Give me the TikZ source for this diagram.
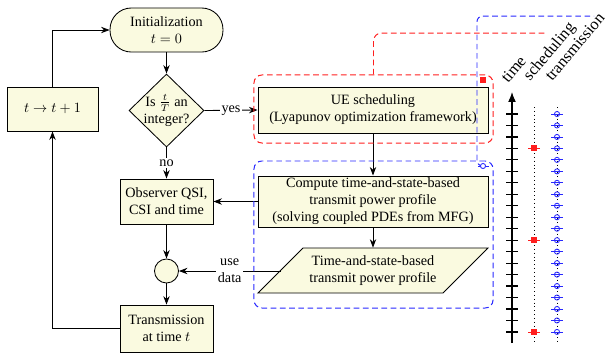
\documentclass[tikz,border=0pt]{standalone}
\usepackage{fontspec}
\setmainfont{Liberation Serif}
\usetikzlibrary{shapes.geometric,arrows.meta,calc}
\definecolor{boxfill}{RGB}{250,250,224}
\definecolor{myred}{RGB}{255,30,30}
\definecolor{myblue}{RGB}{40,40,255}
\begin{document}
\begin{tikzpicture}[x=0.704pt,y=-0.704pt, font=\fontsize{10}{12}\selectfont,
  box/.style={draw, fill=boxfill, line width=0.6pt, align=center, inner sep=1pt},
  arr/.style={-{Stealth[length=6pt,width=4.5pt]}, line width=0.6pt},
  lbl/.style={fill=white, inner sep=1pt, align=center},
  reddash/.style={draw=myred, dash pattern=on 4pt off 2.5pt, line width=0.7pt},
  bluedash/.style={draw=myblue, dash pattern=on 4pt off 2.5pt, line width=0.7pt},
  axlbl/.style={rotate=50, anchor=base west, inner sep=0pt, font=\fontsize{11.5}{14}\selectfont}]
\useasboundingbox (0,0) rectangle (606,356);

% main nodes
\node[box, rounded corners=15pt, minimum width=79.5pt, minimum height=31pt] (init) at (166.5,30) {Initialization\\$t=0$};
\node[draw, fill=boxfill, diamond, minimum width=52.8pt, minimum height=51.4pt, inner sep=0pt, line width=0.6pt] (dia) at (166.5,110.5) {};
\node[align=center, inner sep=0pt] (diat) at (166.5,110.5) {Is $\frac{t}{T}$ an\\integer?};
\node[box, minimum width=64pt, minimum height=31pt] (inc) at (52.5,109) {$t\rightarrow t+1$};
\node[box, minimum width=162pt, minimum height=32.4pt] (ue) at (373,110) {UE scheduling\\(Lyapunov optimization framework)};
\node[box, minimum width=162pt, minimum height=36pt] (comp) at (373,201.5) {Compute time-and-state-based\\transmit power profile\\(solving coupled PDEs from MFG)};
\draw[fill=boxfill, line width=0.6pt] (258,293) -- (443,293) -- (488,248) -- (303,248) -- cycle;
\node[minimum width=162pt, minimum height=31.7pt, inner sep=0pt, align=center] (para) at (373,270.5) {Time-and-state-based\\transmit power profile};
\node[box, minimum width=65.5pt, minimum height=31.7pt] (obs) at (166.5,201.5) {Observer QSI,\\CSI and time};
\node[draw, fill=boxfill, circle, minimum size=16.9pt, inner sep=0pt, line width=0.6pt] (circ) at (166.5,271) {};
\node[box, minimum width=65.5pt, minimum height=33pt] (trans) at (166.5,328.5) {Transmission\\at time $t$};

% connectors
\draw[arr] (init) -- (dia);
\draw[arr] (dia.east) -- node[lbl]{yes} (ue.west);
\draw[arr] (dia.south) -- node[lbl]{no} (obs.north);
\draw[arr] (ue) -- (comp);
\draw[arr] (comp) -- (para);
\draw[arr] (comp.west) -- (obs.east);
\coordinate (pleft) at (280.5,271);
\draw[arr] (pleft) -- node[lbl]{use\\data} (circ.east);
\draw[arr] (obs) -- (circ);
\draw[arr] (circ) -- (trans);
\draw[arr] (trans.west) -| (inc.south);
\draw[arr] (inc.north) |- (init.west);

% dashed groups
\node[reddash, rounded corners=5.6pt, minimum width=168.3pt, minimum height=47.9pt, inner sep=0pt] (redgrp) at (373.5,109) {};
\node[bluedash, rounded corners=5.6pt, minimum width=168.3pt, minimum height=103.5pt, inner sep=0pt] (bluegrp) at (373.5,234.5) {};
\coordinate (redend) at (545,33);
\coordinate (blueend) at (594,16);
\draw[reddash, rounded corners=5.6pt] (redgrp.north) |- (redend);
\fill[myred] (480,77) rectangle (486,83);
\coordinate (bm) at (483,166);
\draw[bluedash, rounded corners=4pt] (bm) -- (477,166) |- (blueend);
\draw[myblue, line width=0.6pt] (478,166) -- (489,166);
\draw[myblue, line width=0.6pt, fill=white] (bm) circle[radius=1.8pt];

% timeline
\draw[dotted, line width=0.7pt] (534,107) -- (534,343);
\draw[dotted, line width=0.7pt] (557,107) -- (557,343);
\draw[line width=0.8pt, -{Latex[length=7pt,width=5.5pt]}] (512,343) -- (512,92);
\foreach \k in {0,...,19} {
  \pgfmathsetmacro\yy{114+11.47*\k}
  \draw[line width=0.8pt] (506,\yy) -- (518,\yy);
  \draw[myblue, line width=0.6pt] (551,\yy) -- (563,\yy);
  \draw[myblue, line width=0.6pt] (557,\yy) circle[radius=1.8pt];
}
\foreach \k in {3,11,19} {
  \pgfmathsetmacro\yy{114+11.47*\k}
  \draw[myred, line width=0.6pt] (528,\yy) -- (540,\yy);
  \fill[myred] ($(534,\yy)+(-3,-3)$) rectangle ($(534,\yy)+(3,3)$);
}
\node[axlbl] (ltime) at (508,84) {time};
\node[axlbl] (lsched) at (530,82) {scheduling};
\node[axlbl] (ltrans) at (552,82) {transmission};
\end{tikzpicture}
\end{document}
